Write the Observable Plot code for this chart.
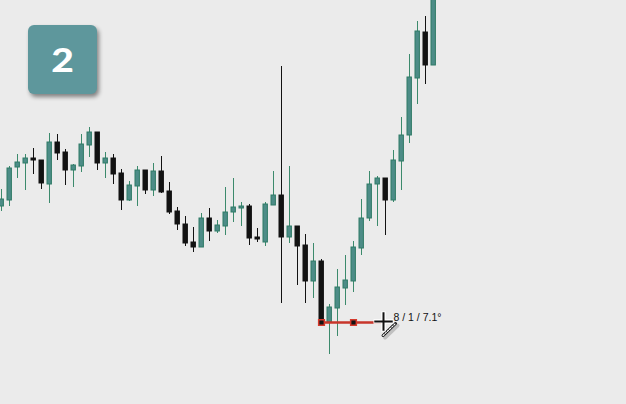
<!DOCTYPE html>
<html>
<head>
<meta charset="utf-8">
<script src="https://cdn.jsdelivr.net/npm/d3@7"></script>
<script src="https://cdn.jsdelivr.net/npm/@observablehq/plot@0.6"></script>
<style>
  html, body { margin: 0; padding: 0; background: #ebebeb; }
  #wrap { position: relative; width: 626px; height: 404px; overflow: hidden; background: #ebebeb; }
  #badge {
    position: absolute; left: 28px; top: 25px; width: 69px; height: 69px;
    background: #5e979c; border-radius: 6px;
    box-shadow: 2px 3px 4px rgba(0,0,0,0.45);
    color: #fff; font-family: Lato, "Open Sans", sans-serif; font-weight: 900;
    font-size: 33px; line-height: 69px; text-align: center;
  }
  #badge span { display: inline-block; transform: scaleX(1.18); }
  svg { display: block; }
</style>
</head>
<body>
<div id="wrap"><div id="badge"><span>2</span></div></div>
<script>
// Candle data (price units), one entry per bar
const opens  = [198,204,237,241,246,244,220,262,252,234,238,259,272,241,246,231,204,218,234,214,233,213,193,180,162,157,186,173,178,192,196,198,167,162,199,209,167,178,159,123,143,82,96,116,123,156,186,220,226,204,243,269,326,372,339];
const closes = [205,236,242,246,244,221,262,251,234,239,260,272,241,246,230,204,219,234,214,233,212,192,180,161,157,186,173,179,192,197,198,166,165,200,209,167,178,158,123,143,82,97,117,124,157,186,220,226,204,244,269,327,373,339,409];
const highs  = [215,238,250,250,256,244,271,270,255,240,270,277,272,252,250,235,223,238,234,241,248,222,197,188,177,191,196,184,217,226,202,200,176,202,233,338,238,178,170,161,145,100,135,149,163,205,233,228,226,254,287,350,383,388,419];
const lows   = [193,198,226,214,230,215,201,244,219,217,232,247,234,226,220,194,203,198,210,208,211,190,174,158,152,157,163,171,169,182,178,159,162,158,199,101,161,119,101,106,82,50,68,99,112,149,183,178,169,202,214,261,300,320,339];

// Drawing-tool annotation (horizontal line with anchors)
const toolLineX = [40, 47.75];
const toolLineY = [82, 82];
const toolAnchorX = [40, 44];
const toolAnchorY = [82, 82];
const cursorX = [47.75];
const cursorY = [83];
const penX = [47.7, 49.25];
const penY = [69, 81];
const labelText = ["8 / 1 / 7.1°"];
const labelX = [49.0];
const labelY = [84];

const candles = opens.map((o, i) => ({
  i, open: o, close: closes[i], high: highs[i], low: lows[i], up: closes[i] >= o
}));

const TEAL_FILL = "#4d8c87", TEAL_STROKE = "#2f7b66", TEAL_WICK = "#3c8a6c", DARK = "#121212";

const chart = Plot.plot({
  width: 626,
  height: 404,
  margin: 0,
  style: { background: "#ebebeb", overflow: "hidden" },
  x: { domain: [-0.125, 78.125], axis: null },
  y: { domain: [0, 404], axis: null },
  marks: [
    Plot.ruleX(candles, {
      x: "i", y1: "low", y2: "high",
      stroke: d => d.up ? TEAL_WICK : DARK, strokeWidth: 1, clip: true
    }),
    Plot.rect(candles, {
      x1: d => d.i - 0.25, x2: d => d.i + 0.3,
      y1: "open", y2: "close",
      fill: d => d.up ? TEAL_FILL : DARK,
      stroke: d => d.up ? TEAL_STROKE : DARK,
      strokeWidth: 1, clip: true
    }),
    Plot.line(toolLineX.map((x, k) => ({x, y: toolLineY[k]})), {
      x: "x", y: "y", stroke: "#c8362b", strokeWidth: 2.4
    }),
    Plot.dot(toolAnchorX.map((x, k) => ({x, y: toolAnchorY[k]})), {
      x: "x", y: "y", symbol: "square", r: 3.2,
      fill: "#141414", stroke: "#d4392c", strokeWidth: 1.5
    }),
    // pen cursor shadow + stripes
    Plot.line(penX.map((x, k) => ({x: x + 0.25, y: penY[k] - 2})), {
      x: "x", y: "y", stroke: "#000", strokeOpacity: 0.18, strokeWidth: 4
    }),
    Plot.line(penX.map((x, k) => ({x, y: penY[k]})), {
      x: "x", y: "y", stroke: "#111", strokeWidth: 3
    }),
    Plot.line(penX.map((x, k) => ({x, y: penY[k]})), {
      x: "x", y: "y", stroke: "#fff", strokeWidth: 1.2, strokeDasharray: "1.5,1.5"
    }),
    // crosshair cursor
    Plot.dot(cursorX.map((x, k) => ({x, y: cursorY[k]})), {
      x: "x", y: "y", symbol: "plus", r: 6.5, stroke: "#fff", strokeWidth: 4.5
    }),
    Plot.dot(cursorX.map((x, k) => ({x, y: cursorY[k]})), {
      x: "x", y: "y", symbol: "plus", r: 6, stroke: "#111", strokeWidth: 2
    }),
    Plot.text(labelText.map((t, k) => ({t, x: labelX[k], y: labelY[k]})), {
      x: "x", y: "y", text: "t", textAnchor: "start", lineAnchor: "bottom",
      fontSize: 10.5, fill: "#111", fontFamily: "Liberation Sans, Arial, sans-serif"
    })
  ]
});

document.getElementById("wrap").prepend(chart);
chart.style.position = "absolute";
chart.style.left = "0";
chart.style.top = "0";
</script>
</body>
</html>
